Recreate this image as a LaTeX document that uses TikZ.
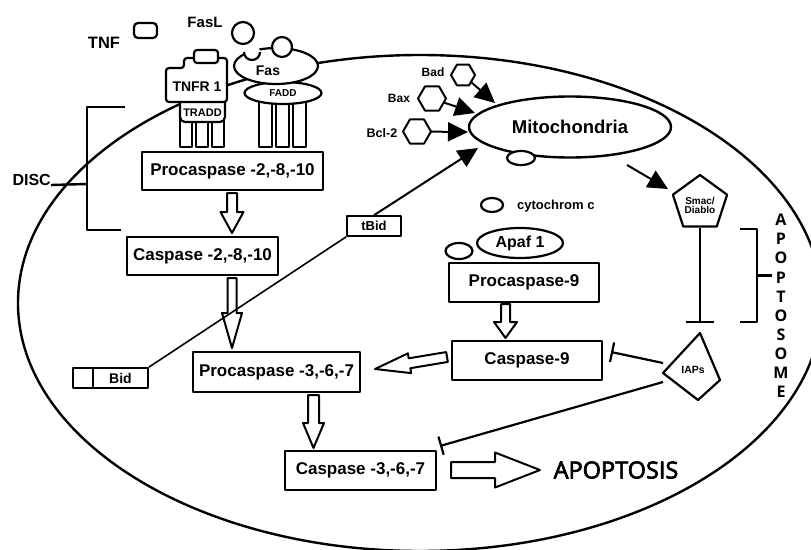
\documentclass[tikz,border=0pt]{standalone}
\usepackage{fontspec}
\setmainfont{Liberation Sans}
\newfontfamily\headfont{Open Sans}[FakeBold=3]
\newfontfamily\sidefont{Open Sans}
\usetikzlibrary{arrows.meta,calc,shapes.geometric}

\newcommand\fsz[1]{\fontsize{#1}{#1}\selectfont}

% hollow block arrow: base, tip, shaft half width, head half width, head length
\newcommand\blockarrow[5]{%
  \coordinate (ba-h) at ($(#2)!#5!(#1)$);
  \draw[blockarr] ($(#1)!#3!90:(#2)$) -- ($(ba-h)!#3!90:(#2)$) -- ($(ba-h)!#4!90:(#2)$)
    -- (#2) -- ($(ba-h)!#4!-90:(#2)$) -- ($(ba-h)!#3!-90:(#2)$) -- ($(#1)!#3!-90:(#2)$) -- cycle;
}

\tikzset{
  cell/.style={line width=2.4pt},
  stepbox/.style={draw, line width=2.4pt, fill=white, inner sep=0pt,
    font=\bfseries\fsz{17}},
  thinbox/.style={draw, line width=1.6pt, fill=white, inner sep=0pt},
  recep/.style={draw, line width=2.2pt, fill=white},
  leg/.style={draw, line width=2pt, fill=white},
  lbl/.style={inner sep=0pt, font=\bfseries},
  hexa/.style={regular polygon, regular polygon sides=6, draw, line width=2pt,
    fill=white, inner sep=0pt, outer sep=0pt},
  oval/.style={ellipse, draw, line width=2.2pt, fill=white, inner sep=0pt},
  act/.style={line width=2pt, -{Triangle[length=20pt,width=19pt]}},
  inh/.style={line width=2.2pt, -{Bar[width=#1]}},
  inh/.default=20pt,
  blockarr/.style={draw, line width=2pt, fill=white},
  brk/.style={line width=2.4pt},
}

\begin{document}
\begin{tikzpicture}[x=1pt,y=-1pt,line join=round]
\clip (0,0) rectangle (811,549);
\fill[white] (0,0) rectangle (811,549);

% cell membrane
\draw[cell] (420,303) ellipse [x radius=402, y radius=248];

% TNF receptor with TRADD
\foreach \x in {180,196,212} \draw[leg] (\x,118) rectangle ++(12,29);
\draw[recep, rounded corners=5] (180,98) rectangle (225,122);
\draw[recep, rounded corners=3] (166,68) -- (184,68) -- (184,58) -- (227,58)
  -- (227,102) -- (166,102) -- cycle;
\draw[recep, rounded corners=3] (194,50) rectangle (218,63);
\draw[recep, rounded corners=4] (134,23) rectangle (157,38);
\node[lbl, font=\bfseries\fsz{14}] (tnfr) at (197,87) {TNFR 1};
\node[lbl, font=\bfseries\fsz{11}] (tradd) at (202.5,112.5) {TRADD};
\node[lbl, font=\bfseries\fsz{16.5}] (tnf) at (104,43) {TNF};

% Fas receptor with FADD
\foreach \x in {259,276,293} \draw[leg] (\x,98) rectangle ++(13,49);
\node[oval, minimum width=77pt, minimum height=22pt, font=\bfseries\fsz{10}]
  (fadd) at (283,93) {FADD};
\draw[recep] (276,66) ellipse [x radius=42, y radius=18];
\fill[white] (252,52) circle [radius=8];
\draw[line width=2.2pt] (260,52) arc [start angle=0, end angle=180, radius=8];
\draw[recep] (282,47) circle [radius=10];
\draw[recep] (243,33) circle [radius=11];
\node[lbl, font=\bfseries\fsz{14}] (fas) at (268,71) {Fas};
\node[lbl, font=\bfseries\fsz{15}] (fasl) at (205,22) {FasL};

% DISC bracket
\node[lbl, anchor=base east, font=\bfseries\fsz{16}] (disc) at (51,185) {DISC};
\coordinate (discbr) at (87,184);
\draw[brk] (125,107) -- (87,107) -- (87,230) -- (121,230);
\draw[brk] (disc.base east) -- (discbr);

% caspase cascade boxes
\node[stepbox, minimum width=181pt, minimum height=38pt] (pc2) at (232.5,171) {Procaspase -2,-8,-10};
\node[stepbox, minimum width=151pt, minimum height=38pt] (c2) at (202.5,256) {Caspase -2,-8,-10};
\node[stepbox, minimum width=167pt, minimum height=40pt] (pc3) at (276.5,372) {Procaspase -3,-6,-7};
\node[stepbox, minimum width=151pt, minimum height=39pt] (c3) at (360.5,470.5) {Caspase -3,-6,-7};
\node[stepbox, minimum width=150pt, minimum height=39pt] (pc9) at (524,282.5) {Procaspase-9};
\node[stepbox, minimum width=150pt, minimum height=39pt] (c9) at (527,360.5) {Caspase-9};

% block arrows of the cascade
\coordinate (a1b) at (232,193);   \coordinate (a1t) at (232,233);
\coordinate (a2b) at (232,278);   \coordinate (a2t) at (232,348);
\coordinate (a3b) at (505.5,304); \coordinate (a3t) at (505.5,338);
\coordinate (a4b) at (447,357);   \coordinate (a4t) at (375,369);
\coordinate (a5b) at (313.5,395); \coordinate (a5t) at (313.5,448);
\coordinate (a6b) at (451,470);   \coordinate (a6t) at (540,470);
\blockarrow{a1b}{a1t}{5pt}{11.5pt}{21pt}
\blockarrow{a2b}{a2t}{4.5pt}{10pt}{35pt}
\blockarrow{a3b}{a3t}{4.5pt}{11.5pt}{16pt}
\blockarrow{a4b}{a4t}{5pt}{10pt}{35pt}
\blockarrow{a5b}{a5t}{5.5pt}{10.5pt}{25pt}
\blockarrow{a6b}{a6t}{8pt}{17.5pt}{45pt}
\node[inner sep=0pt, font=\headfont\fsz{23.5}] (apop) at (616,470) {APOPTOSIS};

% Bid and tBid
\node[thinbox, minimum width=20pt, minimum height=20pt] (bidl) at (83,378) {};
\node[thinbox, minimum width=55pt, minimum height=20pt, font=\bfseries\fsz{14}]
  (bid) at (120.5,378) {Bid};
\node[thinbox, minimum width=54pt, minimum height=20pt, font=\bfseries\fsz{13}]
  (tbid) at (374,226) {tBid};
\draw[line width=1.6pt] (bid.north east) -- (tbid.south west);

% mitochondrion
\node[oval, line width=2.4pt, minimum width=202pt, minimum height=61pt,
  font=\bfseries\fsz{18.5}] (mito) at (570,127) {Mitochondria};
\node[oval, minimum width=28pt, minimum height=14pt] (pore) at (521,158) {};
\coordinate (tbidtip) at (478,148);
\draw[act] (tbid.north) -- (tbidtip);

% Bcl-2 family
\node[hexa, minimum size=24pt] (bad) at (463,75) {};
\node[hexa, minimum size=28pt] (bax) at (432,98.5) {};
\node[hexa, minimum size=28pt] (bcl) at (417,131.5) {};
\node[lbl, font=\bfseries\fsz{12}] (badl) at (433,72) {Bad};
\node[lbl, font=\bfseries\fsz{12}] (baxl) at (399,98) {Bax};
\node[lbl, font=\bfseries\fsz{12.5}] (bcll) at (382,133) {Bcl-2};
\coordinate (badtip) at (495,103);
\coordinate (baxtip) at (475,113);
\coordinate (bcltip) at (468,132);
\draw[act] (bad) -- (badtip);
\draw[act] (bax) -- (baxtip);
\draw[act] (bcl) -- (bcltip);

% cytochrome c and apoptosome
\node[oval, minimum width=22pt, minimum height=14pt] (cyt) at (492,205) {};
\node[lbl, anchor=west, font=\bfseries\fsz{13}] (cytl) at (517,206) {cytochrom c};
\node[oval, minimum width=86pt, minimum height=30pt, font=\bfseries\fsz{16}]
  (apaf) at (520,243) {Apaf 1};
\node[oval, minimum width=27pt, minimum height=16pt] (cytb) at (459,251) {};

% Smac/Diablo
\node[regular polygon, regular polygon sides=5, draw, line width=2.2pt, fill=white,
  inner sep=0pt, minimum size=57pt] (smac) at (700,203.5) {};
\node[lbl, align=center, font=\bfseries\fsz{10}, text depth=0pt]
  (smacl) at (700,205) {Smac/\\[-1pt]Diablo};
\coordinate (mitoout) at (627,165);
\coordinate (smactip) at (668,189);
\draw[act] (mitoout) -- (smactip);

% IAPs
\coordinate (iapt) at (700,333);
\coordinate (iapr) at (720,380);
\coordinate (iapb) at (698,400);
\coordinate (iapl) at (663,373);
\draw[line width=2.2pt, fill=white] (iapt) -- (iapr) -- (iapb) -- (iapl) -- cycle;
\node[lbl, font=\bfseries\fsz{10.5}] (iaps) at (693,370) {IAPs};
\coordinate (smacbar) at (700,323);
\draw[inh=28pt] (smac) -- (smacbar);
\coordinate (iapu) at (663,363);
\coordinate (iapd) at (663,382);
\coordinate (c9bar) at (611,352);
\coordinate (c3bar) at (440,446);
\draw[inh] (iapu) -- (c9bar);
\draw[inh=19pt] (iapd) -- (c3bar);

% apoptosome bracket
\draw[brk] (740,229) -- (757,229) -- (757,322) -- (740,322);
\draw[brk] (757,275.5) -- (772,275.5);
\node[inner sep=0pt, align=center, font=\sidefont\bfseries\fontsize{16}{19.1}\selectfont]
  (apsome) at (781,306) {A\\P\\O\\P\\T\\O\\S\\O\\M\\E};
\end{tikzpicture}
\end{document}
